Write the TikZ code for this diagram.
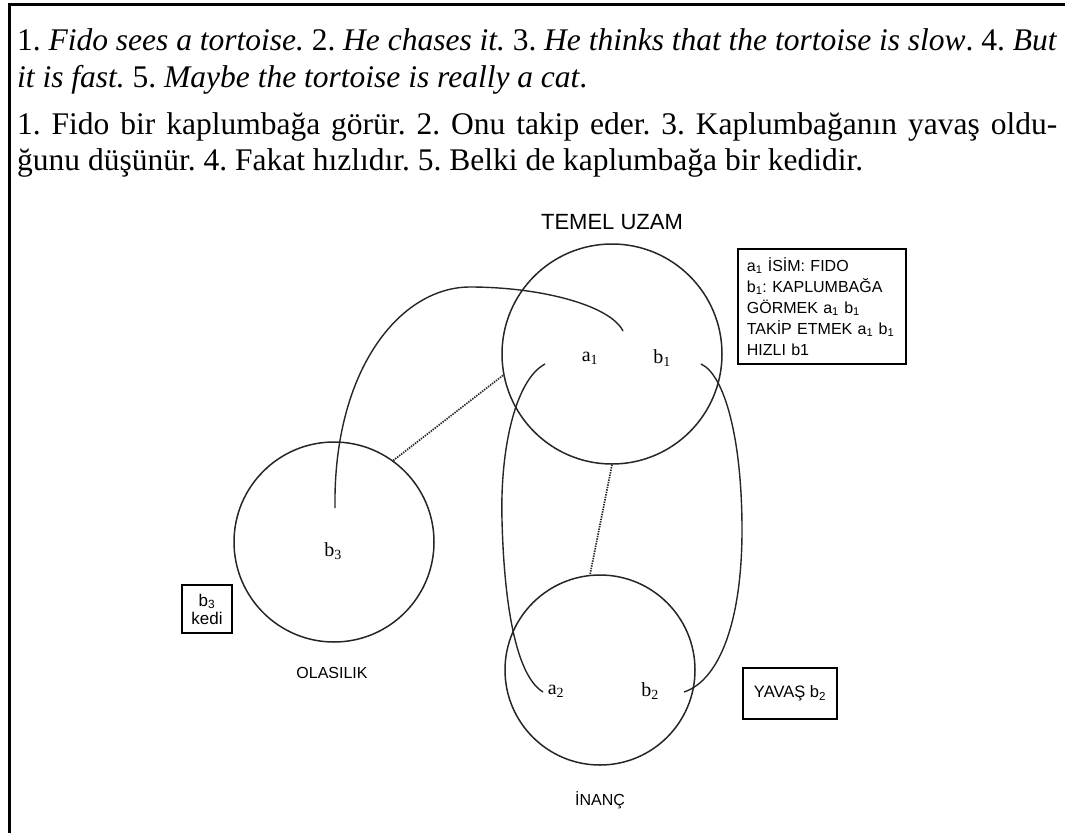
\documentclass[tikz,border=0pt]{standalone}
\usepackage{fontspec}
\setmainfont{Liberation Serif}
\setsansfont{Liberation Sans}
\frenchspacing
\begin{document}
\begin{tikzpicture}[x=1pt,y=-1pt,
  circ/.style={circle,draw=black!85,line width=1.5pt,inner sep=0pt},
  lnk/.style={draw=black!85,line width=1.4pt},
  dotl/.style={draw=black!85,dash pattern=on 1.4pt off 1.1pt,line width=1.7pt},
  lbl/.style={font=\sffamily\fontsize{16}{19}\selectfont,inner sep=0pt},
  var/.style={font=\rmfamily\fontsize{20}{24}\selectfont,inner sep=0pt},
  txt/.style={anchor=base west,inner sep=0pt,font=\rmfamily\fontsize{31.5}{36}\selectfont},
  framed/.style={draw,line width=1.7pt}]
\useasboundingbox (0,0) rectangle (1065,833);
% page frame
\draw[line width=3pt] (1065,4) -- (9,4) -- (9,833);
% text
\node[txt] (l1) at (17,50) {\makebox[1040pt][s]{1. \textit{Fido sees a tortoise.} 2. \textit{He chases it.} 3. \textit{He thinks that the tortoise is slow}. 4. \textit{But}}};
\node[txt] (l2) at (17,87) {\textit{it is fast.} 5. \textit{Maybe the tortoise is really a cat}.};
\node[txt] (l3) at (17,134) {\makebox[1040pt][s]{1. Fido bir kaplumbağa görür. 2. Onu takip eder. 3. Kaplumbağanın yavaş oldu-}};
\node[txt] (l4) at (17,170) {ğunu düşünür. 4. Fakat hızlıdır. 5. Belki de kaplumbağa bir kedidir.};
% spaces
\node[circ,minimum size=220pt] (T) at (612,354) {};
\node[circ,minimum size=200pt] (O) at (334,542) {};
\node[circ,minimum size=190pt] (I) at (600,670) {};
\node[font=\sffamily\fontsize{22}{26}\selectfont,inner sep=0pt] (tl) at (612,222) {TEMEL UZAM};
\node[lbl] (ol) at (332,673) {OLASILIK};
\node[lbl] (il) at (600,800) {İNANÇ};
% elements
\node[var] (a1) at (590,358) {a\textsubscript{1}};
\node[var] (b1) at (662,358) {b\textsubscript{1}};
\node[var] (b3) at (333,551) {b\textsubscript{3}};
\node[var] (a2) at (556,691) {a\textsubscript{2}};
\node[var] (b2) at (650,691) {b\textsubscript{2}};
% frames
\node[framed,anchor=north west,minimum width=168pt,minimum height=115pt,text width=150pt,inner xsep=9pt,align=left,
  font=\sffamily\fontsize{16}{21}\selectfont] (info) at (737,248)
  {a\textsubscript{1} İSİM: FIDO\\b\textsubscript{1}: KAPLUMBAĞA\\GÖRMEK a\textsubscript{1} b\textsubscript{1}\\TAKİP ETMEK a\textsubscript{1} b\textsubscript{1}\\HIZLI b1};
\node[framed,minimum width=50pt,minimum height=48pt,align=center,inner sep=0pt,
  font=\sffamily\fontsize{17}{18}\selectfont] (kb) at (207,609) {b\textsubscript{3}\\kedi};
\node[framed,minimum width=94pt,minimum height=51pt,inner sep=0pt,
  font=\sffamily\fontsize{16.5}{19}\selectfont] (yb) at (790,693.5) {YAVAŞ b\textsubscript{2}};
% connectors
\draw[dotl] (O.54) -- (T.191);
\draw[dotl] (T.270) -- (I.96);
\coordinate (s1) at (335,508);
\coordinate (e1) at (623,331);
\coordinate (s2) at (545,364);
\coordinate (e2) at (543,692);
\coordinate (s3) at (701,364);
\coordinate (e3) at (684,692);
\draw[lnk] (s1) .. controls (333,370) and (400,287) .. (470,287) .. controls (540,287) and (610,305) .. (e1);
\draw[lnk] (s2) .. controls (515,380) and (500,450) .. (502,520) .. controls (504,600) and (515,675) .. (e2);
\draw[lnk] (s3) .. controls (725,375) and (742,440) .. (742,530) .. controls (742,620) and (720,680) .. (e3);
\end{tikzpicture}
\end{document}
